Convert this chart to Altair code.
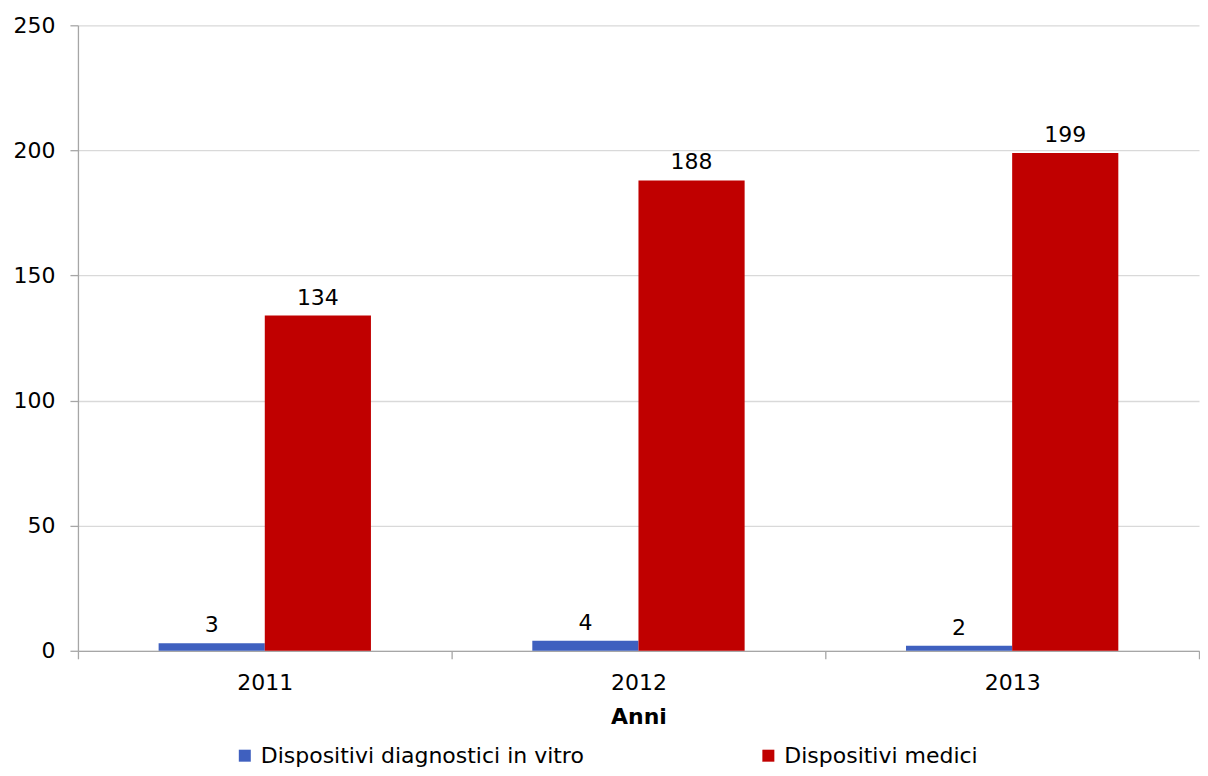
import altair as alt
import pandas as pd

anni = ["2011", "2012", "2013"]
serie = ["Dispositivi diagnostici in vitro", "Dispositivi medici"]
ivd = [3, 4, 2]
medici = [134, 188, 199]
colori = ["#3F60BF", "#C00000"]

rows = []
for i, a in enumerate(anni):
    rows.append({"Anno": a, "Serie": serie[0], "Valore": ivd[i]})
    rows.append({"Anno": a, "Serie": serie[1], "Valore": medici[i]})
df = pd.DataFrame(rows)

font = "DejaVu Sans"
fs = 22

x = alt.X(
    "Anno:N",
    title="Anni",
    sort=anni,
    scale=alt.Scale(paddingInner=0, paddingOuter=0),
    axis=alt.Axis(
        labelAngle=0,
        tickBand="extent",
        labelFontSize=fs,
        labelFont=font,
        labelColor="#000000",
        labelPadding=14,
        titleFont=font,
        titleFontSize=fs,
        titleFontWeight="bold",
        titleColor="#000000",
        titlePadding=13,
        tickSize=8,
        tickColor="#A6A6A6",
        domainColor="#A6A6A6",
        grid=False,
    ),
)
xo = alt.XOffset("Serie:N", sort=serie, scale=alt.Scale(paddingInner=0, paddingOuter=0.76))
y = alt.Y(
    "Valore:Q",
    title=None,
    scale=alt.Scale(domain=[0, 250], nice=False),
    axis=alt.Axis(
        values=[0, 50, 100, 150, 200, 250],
        labelFontSize=fs,
        labelFont=font,
        labelColor="#000000",
        labelPadding=15,
        tickSize=8,
        tickColor="#A6A6A6",
        domainColor="#A6A6A6",
        gridColor="#D9D9D9",
        gridWidth=1.3,
    ),
)

bars = alt.Chart(df).mark_bar().encode(
    x=x,
    xOffset=xo,
    y=y,
    color=alt.Color(
        "Serie:N",
        sort=serie,
        scale=alt.Scale(domain=serie, range=colori),
        legend=alt.Legend(
            title=None,
            orient="none",
            legendX=156,
            legendY=720,
            direction="horizontal",
            symbolType="square",
            symbolSize=144,
            symbolStrokeWidth=0,
            labelFont=font,
            labelFontSize=fs,
            labelColor="#000000",
            labelOffset=5,
            columnPadding=173,
            labelLimit=600,
        ),
    ),
)

labels = alt.Chart(df).mark_text(
    dy=-6, fontSize=fs, font=font, color="#000000", baseline="bottom"
).encode(
    x=x,
    xOffset=xo,
    y=y,
    text="Valore:Q",
)

chart = (
    alt.layer(bars, labels)
    .properties(
        width=1122,
        height=626,
        padding={"left": 5, "top": 6, "right": 0, "bottom": 0},
    )
    .configure_view(stroke=None)
    .configure_axis(domainWidth=1.3, tickWidth=1.3)
)

chart.save("out.html", embed_options={"renderer": "svg", "actions": False})
